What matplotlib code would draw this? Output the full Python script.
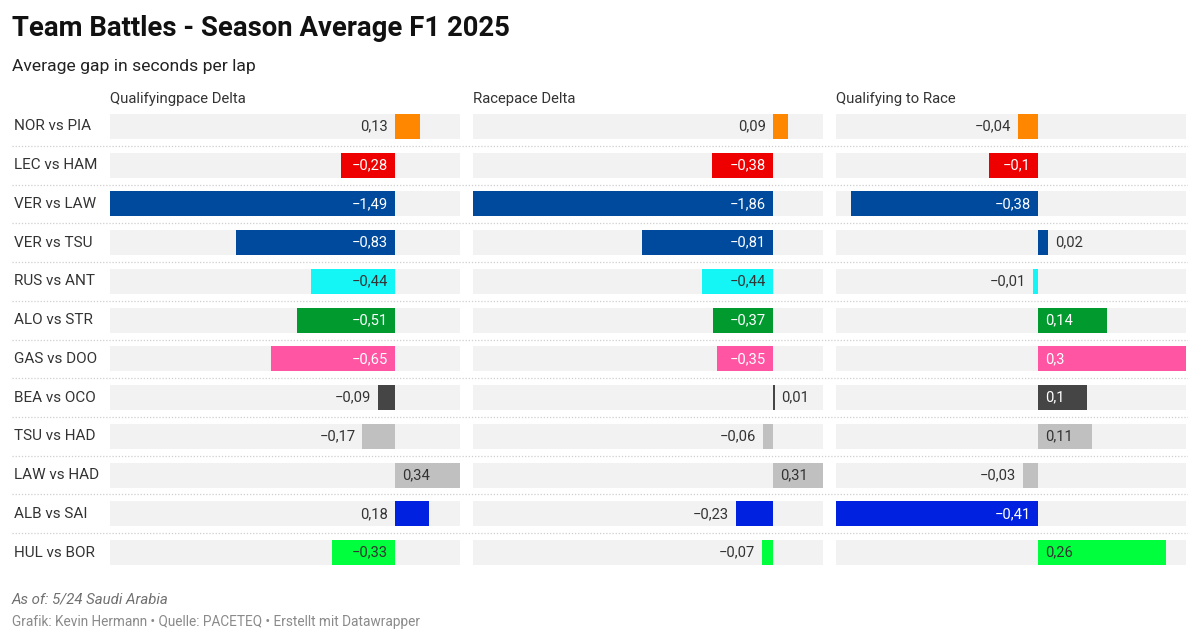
import matplotlib
matplotlib.use("Agg")
import matplotlib.pyplot as plt
from matplotlib.colors import to_rgb

plt.rcParams['font.family'] = ['Roboto', 'DejaVu Sans']

# ---------------- data ----------------
title = "Team Battles - Season Average F1 2025"
subtitle = "Average gap in seconds per lap"
panel_titles = ["Qualifyingpace Delta", "Racepace Delta", "Qualifying to Race"]
matchups = ["NOR vs PIA", "LEC vs HAM", "VER vs LAW", "VER vs TSU", "RUS vs ANT",
            "ALO vs STR", "GAS vs DOO", "BEA vs OCO", "TSU vs HAD", "LAW vs HAD",
            "ALB vs SAI", "HUL vs BOR"]
quali_delta = [0.13, -0.28, -1.49, -0.83, -0.44, -0.51, -0.65, -0.09, -0.17, 0.34, 0.18, -0.33]
race_delta = [0.09, -0.38, -1.86, -0.81, -0.44, -0.37, -0.35, 0.01, -0.06, 0.31, -0.23, -0.07]
quali_to_race = [-0.04, -0.1, -0.38, 0.02, -0.01, 0.14, 0.3, 0.1, 0.11, -0.03, -0.41, 0.26]
team_colors = ["#FF8700", "#EE0000", "#004A9E", "#004A9E", "#14F5F5", "#009A2E",
               "#FF55A3", "#454545", "#C0C0C0", "#C0C0C0", "#0022E0", "#00FF3C"]
note = "As of: 5/24 Saudi Arabia"
credits = "Grafik: Kevin Hermann \u2022 Quelle: PACETEQ \u2022 Erstellt mit Datawrapper"

# ---------------- layout ----------------
W, H = 1200, 643
fig = plt.figure(figsize=(W / 100, H / 100), dpi=100)
fig.patch.set_facecolor("white")

n = len(matchups)
row_h = 38.73
top_c = 126.5
y_top = top_c - row_h / 2
y_bot = top_c + (n - 1) * row_h + row_h / 2

def fy(py):
    return 1 - py / H

def fx(px):
    return px / W

# background axes for row labels and separators
bg = fig.add_axes([fx(12), fy(y_bot), fx(1188 - 12), (y_bot - y_top) / H])
bg.set_xlim(0, 1)
bg.set_ylim(n - 0.5, -0.5)
bg.axis("off")
for i in range(n - 1):
    bg.axhline(i + 0.5, color="#cfcfcf", lw=0.9, ls=(0, (1, 1.5)))
for i, m in enumerate(matchups):
    bg.text(2 / 1176, i, m, ha="left", va="center", fontsize=11, color="#333333")

panels_px = [(110, 460), (473, 823), (836, 1186)]
series = [quali_delta, race_delta, quali_to_race]

def lum(c):
    r, g, b = to_rgb(c)
    def lin(v):
        return v / 12.92 if v <= 0.04045 else ((v + 0.055) / 1.055) ** 2.4
    return 0.2126 * lin(r) + 0.7152 * lin(g) + 0.0722 * lin(b)

def fmt(v):
    s = f"{abs(v):g}".replace(".", ",")
    return ("\u2212" + s) if v < 0 else s

fig.canvas.draw()
renderer = fig.canvas.get_renderer()

pad = 7  # px
off = pad * 0.72
fs = 10.6
for (x0, x1), vals, ptitle in zip(panels_px, series, panel_titles):
    ax = fig.add_axes([fx(x0), fy(y_bot), fx(x1 - x0), (y_bot - y_top) / H])
    vmin, vmax = min(vals), max(vals)
    ax.set_xlim(vmin, vmax)
    ax.set_ylim(n - 0.5, -0.5)
    ax.axis("off")
    ys = list(range(n))
    ax.barh(ys, [vmax - vmin] * n, left=vmin, height=0.645, color="#f2f2f2", zorder=1)
    ax.barh(ys, vals, left=0, height=0.645, color=team_colors, zorder=2, linewidth=0)
    ppu = (x1 - x0) / (vmax - vmin)
    for i, v in enumerate(vals):
        lbl = fmt(v)
        t = ax.text(0, i, lbl, fontsize=fs, va="center", zorder=3)
        lw = t.get_window_extent(renderer).width
        t.remove()
        w = abs(v) * ppu
        if w >= lw + 2 * pad:
            col = "#333333" if lum(team_colors[i]) > 0.4 else "white"
            x, dx, ha = (0, -off, "right") if v < 0 else (0, off, "left")
        else:
            col = "#333333"
            if v < 0:
                x, dx, ha = v, -off, "right"
            elif (vmax - v) * ppu >= lw + 20:
                x, dx, ha = v, off, "left"
            else:
                x, dx, ha = 0, -off, "right"
        ax.annotate(lbl, (x, i), xytext=(dx, 0), textcoords="offset points",
                    ha=ha, va="center", fontsize=fs, color=col, zorder=3)
    fig.text(fx(x0), fy(99), ptitle, ha="left", va="center", fontsize=10.7, color="#333333")

fig.text(fx(12), fy(29), title, ha="left", va="center", fontsize=19.8, fontweight="bold",
         color="#111111")
fig.text(fx(12), fy(67), subtitle, ha="left", va="center", fontsize=12.6, color="#222222")
fig.text(fx(12), fy(599), note, ha="left", va="center", fontsize=10.8, style="italic",
         color="#707070")
fig.text(fx(12), fy(622), credits, ha="left", va="center", fontsize=9.85, color="#8a8a8a")

fig.savefig("out.png", dpi=100, facecolor="white")
